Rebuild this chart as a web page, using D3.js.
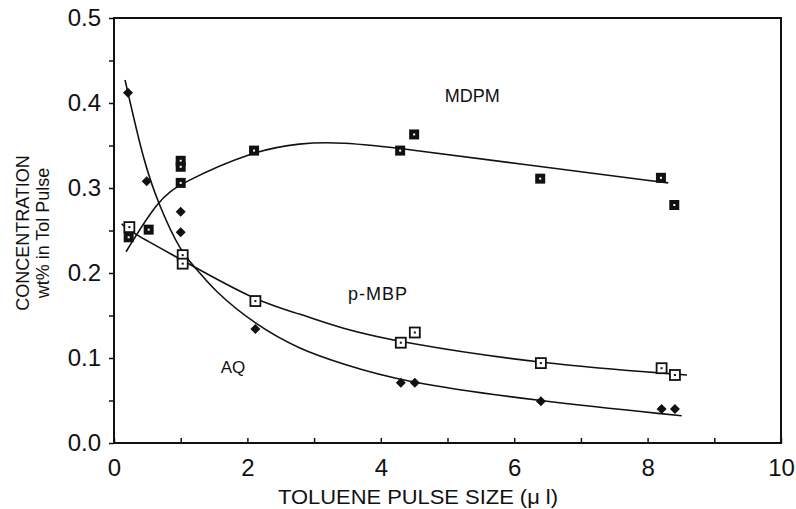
<!DOCTYPE html>
<html>
<head>
<meta charset="utf-8">
<script src="https://cdn.jsdelivr.net/npm/d3@7"></script>
<style>
  body { margin: 0; background: #fff; }
  svg { display: block; }
  text { font-family: "Liberation Sans", Arial, sans-serif; fill: #111; }
</style>
</head>
<body>
<svg id="chart" width="796" height="509"></svg>
<script>
// Data
// ----
const aqX   = [0.21, 0.49, 1.0, 1.0, 2.12, 4.3, 4.51, 6.4, 8.21, 8.41];
const aqY   = [0.412, 0.308, 0.272, 0.248, 0.134, 0.071, 0.071, 0.049, 0.040, 0.040];
const mbpX  = [0.23, 1.03, 1.03, 2.12, 4.3, 4.51, 6.4, 8.21, 8.41];
const mbpY  = [0.254, 0.221, 0.211, 0.167, 0.118, 0.130, 0.094, 0.088, 0.080];
const mdpmX = [0.22, 0.52, 1.0, 1.0, 1.0, 2.1, 4.29, 4.5, 6.39, 8.2, 8.4];
const mdpmY = [0.242, 0.251, 0.332, 0.325, 0.306, 0.344, 0.344, 0.363, 0.311, 0.312, 0.280];

// fitted curves
const aqFitX   = [0.165, 0.21, 0.44, 0.66, 1.01, 1.24, 1.49, 2.12, 2.79, 3.39, 4.3, 6.4, 8.51];
const aqFitY   = [0.427, 0.412, 0.333, 0.282, 0.223, 0.205, 0.180, 0.139, 0.110, 0.094, 0.072, 0.049, 0.032];
const mbpFitX  = [0.115, 0.23, 1.03, 2.12, 2.79, 3.39, 4.3, 6.4, 8.59];
const mbpFitY  = [0.258, 0.249, 0.215, 0.167, 0.152, 0.135, 0.118, 0.093, 0.080];
const mdpmFitX = [0.18, 0.66, 1.0, 2.1, 2.79, 3.4, 4.29, 6.39, 8.31];
const mdpmFitY = [0.225, 0.286, 0.306, 0.344, 0.353, 0.354, 0.347, 0.325, 0.306];

const xTicks = [0, 2, 4, 6, 8, 10];
const yTicks = [0.0, 0.1, 0.2, 0.3, 0.4, 0.5];
const curveLabels = ["MDPM", "p-MBP", "AQ"];

// Layout
// ------
const svg = d3.select("#chart");
const m = { left: 114, right: 781, top: 18, bottom: 443 };

const x = d3.scaleLinear().domain([0, 10]).range([m.left, m.right]);
const y = d3.scaleLinear().domain([0, 0.5]).range([m.bottom, m.top]);

// frame
svg.append("rect")
    .attr("x", m.left).attr("y", m.top)
    .attr("width", m.right - m.left).attr("height", m.bottom - m.top)
    .attr("fill", "none").attr("stroke", "#111").attr("stroke-width", 2);

// x axis: ticks every 1 inward, labels every 2
svg.append("g")
    .attr("transform", `translate(0,${m.bottom})`)
    .call(d3.axisBottom(x).tickValues(d3.range(0, 11, 1)).tickSize(-5).tickFormat(""))
    .call(g => g.select(".domain").remove())
    .call(g => g.selectAll("line").attr("stroke", "#111").attr("stroke-width", 1.5));

svg.append("g")
    .attr("transform", `translate(0,${m.bottom})`)
    .call(d3.axisBottom(x).tickValues(xTicks).tickSize(0).tickPadding(16).tickFormat(d3.format("d")))
    .call(g => g.select(".domain").remove())
    .call(g => g.selectAll("text").attr("font-size", 24).attr("fill", "#111")
        .attr("font-family", "'Liberation Sans', Arial, sans-serif"));

// y axis: outward ticks every 0.05, labels every 0.1
svg.append("g")
    .attr("transform", `translate(${m.left},0)`)
    .call(d3.axisLeft(y).tickValues(d3.range(0, 0.51, 0.05)).tickSize(5).tickFormat(""))
    .call(g => g.select(".domain").remove())
    .call(g => g.selectAll("line").attr("stroke", "#111").attr("stroke-width", 1.5));

svg.append("g")
    .attr("transform", `translate(${m.left},0)`)
    .call(d3.axisLeft(y).tickValues(yTicks).tickSize(0).tickPadding(13).tickFormat(d3.format(".1f")))
    .call(g => g.select(".domain").remove())
    .call(g => g.selectAll("text").attr("font-size", 24).attr("fill", "#111")
        .attr("font-family", "'Liberation Sans', Arial, sans-serif"));

// axis titles
svg.append("text")
    .attr("x", 418).attr("y", 504)
    .attr("text-anchor", "middle").attr("font-size", 20)
    .attr("textLength", 280).attr("lengthAdjust", "spacingAndGlyphs")
    .text("TOLUENE PULSE SIZE  (\u03bc l)");

const yTitle = svg.append("text")
    .attr("transform", "translate(0,233) rotate(-90)")
    .attr("text-anchor", "middle").attr("font-size", 18);
yTitle.append("tspan").attr("x", 0).attr("y", 29).text("CONCENTRATION");
yTitle.append("tspan").attr("x", 0).attr("y", 49).text("wt% in Tol Pulse");

// fitted curves
const line = d3.line().x(d => x(d[0])).y(d => y(d[1])).curve(d3.curveBasis);
[[aqFitX, aqFitY], [mbpFitX, mbpFitY], [mdpmFitX, mdpmFitY]].forEach(([xs, ys]) => {
    svg.append("path")
        .attr("d", line(xs.map((v, i) => [v, ys[i]])))
        .attr("fill", "none").attr("stroke", "#111").attr("stroke-width", 1.6);
});

// markers
const zip = (xs, ys) => xs.map((v, i) => [v, ys[i]]);

svg.append("g").selectAll("path")
    .data(zip(aqX, aqY)).join("path")
    .attr("transform", d => `translate(${x(d[0])},${y(d[1])}) rotate(45)`)
    .attr("d", d3.symbol(d3.symbolSquare, 50)())
    .attr("fill", "#111");

const mbpG = svg.append("g").selectAll("g")
    .data(zip(mbpX, mbpY)).join("g")
    .attr("transform", d => `translate(${x(d[0])},${y(d[1])})`);
mbpG.append("rect").attr("x", -5).attr("y", -5).attr("width", 10).attr("height", 10)
    .attr("fill", "#fff").attr("stroke", "#111").attr("stroke-width", 1.8);
mbpG.append("rect").attr("x", -1).attr("y", -1).attr("width", 2).attr("height", 2).attr("fill", "#111");

const mdpmG = svg.append("g").selectAll("g")
    .data(zip(mdpmX, mdpmY)).join("g")
    .attr("transform", d => `translate(${x(d[0])},${y(d[1])})`);
mdpmG.append("rect").attr("x", -5).attr("y", -5).attr("width", 10).attr("height", 10).attr("fill", "#111");
mdpmG.append("rect").attr("x", -1).attr("y", -1).attr("width", 2).attr("height", 2).attr("fill", "#fff");

// curve labels
const labelPos = [[4.96, 0.401], [3.51, 0.168], [1.6, 0.082]];
const labelSize = [18, 18, 17];
svg.append("g").selectAll("text")
    .data(curveLabels).join("text")
    .attr("x", (d, i) => x(labelPos[i][0]))
    .attr("y", (d, i) => y(labelPos[i][1]))
    .attr("font-size", (d, i) => labelSize[i])
    .attr("letter-spacing", (d, i) => i === 1 ? 1 : 0)
    .text(d => d);
</script>
</body>
</html>
